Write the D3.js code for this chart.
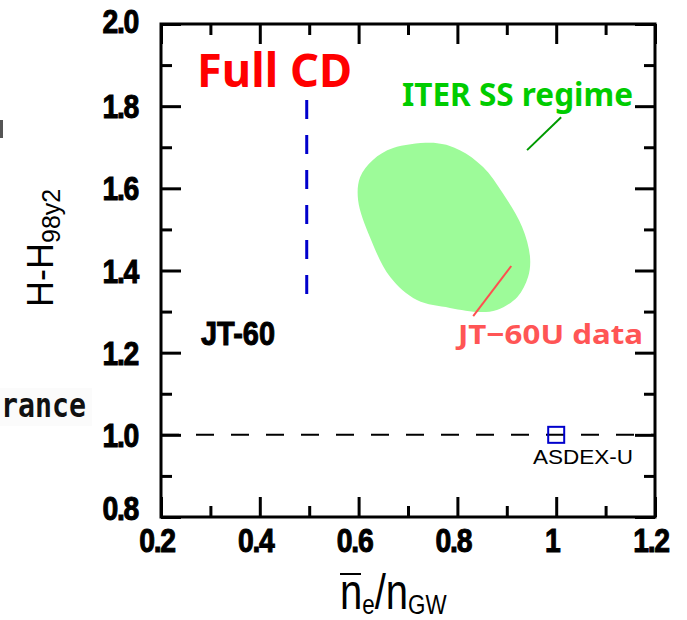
<!DOCTYPE html>
<html>
<head>
<meta charset="utf-8">
<script src="https://cdn.jsdelivr.net/npm/d3@7"></script>
<style>
  html, body { margin: 0; padding: 0; background: #fff; }
  svg { display: block; }
</style>
</head>
<body>
<svg id="chart" width="687" height="620"></svg>
<script>
// Axis ticks
const xMajorTicks = [0.2, 0.4, 0.6, 0.8, 1.0, 1.2];
const xTickLabels = ["0.2", "0.4", "0.6", "0.8", "1", "1.2"];
const xMinorTicks = [0.3, 0.5, 0.7, 0.9, 1.1];
const yMajorTicks = [0.8, 1.0, 1.2, 1.4, 1.6, 1.8, 2.0];
const yTickLabels = ["0.8", "1.0", "1.2", "1.4", "1.6", "1.8", "2.0"];
const yMinorTicks = [0.9, 1.1, 1.3, 1.5, 1.7, 1.9];

// JT-60U data region outline (ne/nGW, H98y2)
const jt60uDensity = [0.629, 0.670, 0.759, 0.805, 0.852, 0.892, 0.931, 0.947, 0.943,
                      0.921, 0.880, 0.846, 0.785, 0.718, 0.664, 0.623, 0.599, 0.603];
const jt60uConfinement = [1.669, 1.698, 1.710, 1.693, 1.652, 1.588, 1.506, 1.433, 1.384,
                          1.335, 1.304, 1.299, 1.309, 1.328, 1.384, 1.481, 1.571, 1.627];

// JT-60 full-CD line
const jt60Density = [0.495, 0.495];
const jt60Confinement = [1.34, 1.815];

// H98y2 = 1 reference
const refConfinement = 1.0;

// ASDEX-U point
const asdexDensity = [1.0];
const asdexConfinement = [1.0];

// Leader lines for the annotations
const iterLeaderDensity = [0.941, 1.010];
const iterLeaderConfinement = [1.693, 1.773];
const jt60uLeaderDensity = [0.832, 0.909];
const jt60uLeaderConfinement = [1.289, 1.411];

const svg = d3.select("#chart");
svg.append("rect").attr("width", 687).attr("height", 620).attr("fill", "#fff");

const x = d3.scaleLinear().domain([0.2, 1.2]).range([161, 655]);
const y = d3.scaleLinear().domain([0.8, 2.0]).range([517, 24]);

// fragment of neighbouring text at the left edge
svg.append("rect").attr("x", 0).attr("y", 120).attr("width", 3).attr("height", 18).attr("fill", "#555");
svg.append("rect").attr("x", 0).attr("y", 388).attr("width", 92).attr("height", 38).attr("fill", "#fbfbfb");
svg.append("text")
  .attr("x", 1).attr("y", 417)
  .attr("font-family", "DejaVu Sans Mono")
  .attr("font-weight", "bold")
  .attr("font-size", 34)
  .attr("fill", "#111")
  .attr("textLength", 85)
  .attr("lengthAdjust", "spacingAndGlyphs")
  .text("rance");

// JT-60U region
const blob = d3.line()
  .x((d, i) => x(jt60uDensity[i]))
  .y((d, i) => y(jt60uConfinement[i]))
  .curve(d3.curveCatmullRomClosed.alpha(0.5));
svg.append("path")
  .attr("d", blob(jt60uDensity))
  .attr("fill", "#9dfb99");

// reference dashed line H=1
svg.append("line")
  .attr("x1", x(0.2)).attr("x2", x(1.2))
  .attr("y1", y(refConfinement)).attr("y2", y(refConfinement))
  .attr("stroke", "#000").attr("stroke-width", 2)
  .attr("stroke-dasharray", "18,17");

// JT-60 blue dashed line
svg.append("line")
  .attr("x1", x(jt60Density[1])).attr("x2", x(jt60Density[0]))
  .attr("y1", y(jt60Confinement[1])).attr("y2", y(jt60Confinement[0]))
  .attr("stroke", "#0000cc").attr("stroke-width", 3)
  .attr("stroke-dasharray", "19,16");

// ASDEX-U marker
svg.selectAll("rect.asdex")
  .data(asdexDensity)
  .join("rect")
  .attr("class", "asdex")
  .attr("x", (d) => x(d) - 8)
  .attr("y", (d, i) => y(asdexConfinement[i]) - 8)
  .attr("width", 16).attr("height", 16)
  .attr("fill", "none").attr("stroke", "#0000cc").attr("stroke-width", 2);

// leader lines
svg.append("line")
  .attr("x1", x(iterLeaderDensity[0])).attr("y1", y(iterLeaderConfinement[0]))
  .attr("x2", x(iterLeaderDensity[1])).attr("y2", y(iterLeaderConfinement[1]))
  .attr("stroke", "#009a00").attr("stroke-width", 2);
svg.append("line")
  .attr("x1", x(jt60uLeaderDensity[0])).attr("y1", y(jt60uLeaderConfinement[0]))
  .attr("x2", x(jt60uLeaderDensity[1])).attr("y2", y(jt60uLeaderConfinement[1]))
  .attr("stroke", "#ff4f4f").attr("stroke-width", 2);

// frame
svg.append("rect")
  .attr("x", x(0.2)).attr("y", y(2.0))
  .attr("width", x(1.2) - x(0.2)).attr("height", y(0.8) - y(2.0))
  .attr("fill", "none").attr("stroke", "#000").attr("stroke-width", 3);

// inward ticks on all four sides
function ticks(axis, vals, size, transform) {
  const g = svg.append("g").attr("transform", transform)
    .call(axis.tickValues(vals).tickSize(-size).tickFormat(""));
  g.select(".domain").remove();
  g.selectAll(".tick line").attr("stroke", "#000").attr("stroke-width", 3);
}
ticks(d3.axisBottom(x), xMajorTicks, 20, `translate(0,${y(0.8)})`);
ticks(d3.axisBottom(x), xMinorTicks, 11, `translate(0,${y(0.8)})`);
ticks(d3.axisTop(x), xMajorTicks, 20, `translate(0,${y(2.0)})`);
ticks(d3.axisTop(x), xMinorTicks, 11, `translate(0,${y(2.0)})`);
ticks(d3.axisLeft(y), yMajorTicks, 20, `translate(${x(0.2)},0)`);
ticks(d3.axisLeft(y), yMinorTicks, 11, `translate(${x(0.2)},0)`);
ticks(d3.axisRight(y), yMajorTicks, 20, `translate(${x(1.2)},0)`);
ticks(d3.axisRight(y), yMinorTicks, 11, `translate(${x(1.2)},0)`);

// tick labels
const tickFont = { family: "Liberation Sans, Arial, sans-serif", size: 33 };
function tickText(g, txt, anchor) {
  g.append("text")
    .attr("text-anchor", anchor)
    .attr("font-family", tickFont.family)
    .attr("font-weight", "bold")
    .attr("font-size", tickFont.size)
    .attr("letter-spacing", -1.5)
    .attr("fill", "#000")
    .attr("stroke", "#000")
    .attr("stroke-width", 1)
    .text(txt);
}
yMajorTicks.forEach((v, i) => {
  let base = y(v) + 12;
  if (v === 2.0) base = y(v) + 9;
  if (v === 0.8) base = y(v) + 3;
  tickText(svg.append("g").attr("transform", `translate(138,${base}) scale(0.86,1)`),
           yTickLabels[i], "end");
});
xMajorTicks.forEach((v, i) => {
  tickText(svg.append("g").attr("transform", `translate(${x(v) - 4},552) scale(0.86,1)`),
           xTickLabels[i], "middle");
});

// axis titles
const xTitle = svg.append("g").attr("transform", "translate(340,609) scale(0.8,1)");
const xt = xTitle.append("text")
  .attr("font-family", "Liberation Sans, Arial, sans-serif")
  .attr("font-size", 50);
xt.append("tspan").text("n");
xt.append("tspan").attr("font-size", 28).attr("dy", 5).text("e");
xt.append("tspan").attr("dy", -5).text("/n");
xt.append("tspan").attr("font-size", 28).attr("dy", 5).text("GW");
svg.append("line")
  .attr("x1", 340).attr("x2", 361).attr("y1", 574).attr("y2", 574)
  .attr("stroke", "#000").attr("stroke-width", 2);

const yTitle = svg.append("g").attr("transform", "translate(53,307) rotate(-90)");
const yt = yTitle.append("text")
  .attr("font-family", "Liberation Sans, Arial, sans-serif")
  .attr("font-size", 36);
yt.append("tspan").text("H-H");
yt.append("tspan").attr("font-size", 25).attr("dy", 7).text("98y2");

// annotations
function label(txt, xPos, yPos, len, size, color, family, weight, thick) {
  svg.append("text")
    .attr("x", xPos).attr("y", yPos)
    .attr("font-family", family)
    .attr("font-weight", weight)
    .attr("font-size", size)
    .attr("fill", color)
    .attr("stroke", thick ? color : "none")
    .attr("stroke-width", thick || 0)
    .attr("textLength", len)
    .attr("lengthAdjust", "spacingAndGlyphs")
    .text(txt);
}
label("Full CD", 197, 87, 155, 46, "#ff0000", "Noto Sans, sans-serif", "bold");
label("ITER SS regime", 402, 106, 231, 32, "#00cc00", "Noto Sans, sans-serif", "bold");
label("JT\u221260U data", 458, 344, 185, 27, "#ff5555", "Noto Sans, sans-serif", "bold");
label("JT-60", 201, 345, 74, 34, "#000", "Liberation Sans, Arial, sans-serif", "bold", 1);
label("ASDEX-U", 533, 464, 100, 21, "#000", "Liberation Sans, Arial, sans-serif", "normal");
</script>
</body>
</html>
